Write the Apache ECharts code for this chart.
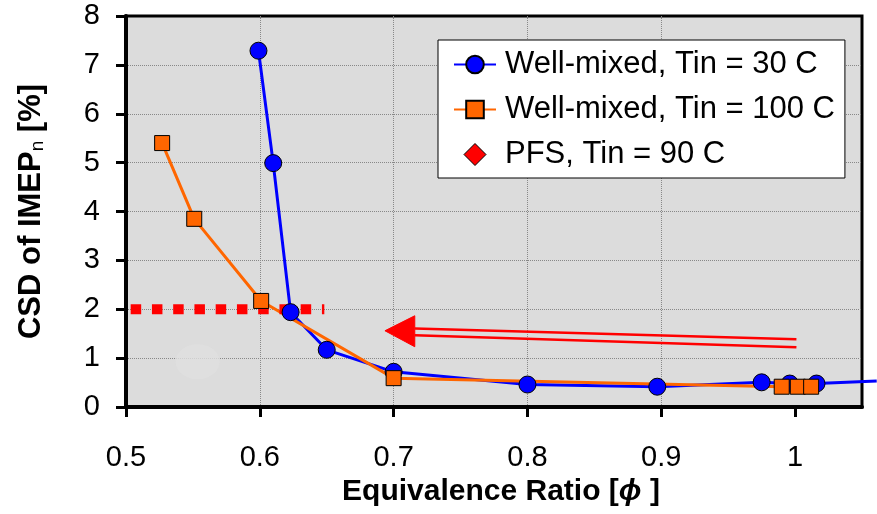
<!DOCTYPE html>
<html>
<head>
<meta charset="utf-8">
<script src="https://cdn.jsdelivr.net/npm/echarts@6/dist/echarts.min.js"></script>
<style>html,body{margin:0;padding:0;background:#fff}#c{width:877px;height:514px}</style>
</head>
<body>
<div id="c"></div>
<script>
// ---- data ----
var xTicks = [0.5, 0.6, 0.7, 0.8, 0.9, 1.0];
var yTicks = [0, 1, 2, 3, 4, 5, 6, 7, 8];
var wm30X = [0.599, 0.610, 0.623, 0.650, 0.700, 0.800, 0.897, 0.975, 0.996, 1.016, 1.061];
var wm30Y = [7.29, 4.99, 1.94, 1.17, 0.72, 0.46, 0.415, 0.505, 0.48, 0.48, 0.53];
var wm100X = [0.527, 0.551, 0.601, 0.700, 0.990, 1.002, 1.012];
var wm100Y = [5.40, 3.85, 2.17, 0.59, 0.415, 0.415, 0.415];
var pfsX = [0.5035, 0.6482];
var pfsY = [2.0, 2.0];
var arrowTopX = [0.7158, 1.001];
var arrowTopY = [1.606, 1.384];
var arrowBotX = [0.7158, 1.001];
var arrowBotY = [1.469, 1.22];
var arrowHead = [0.6935, 1.56, 0.7158, 1.867, 1.233]; // tipX, tipY, backX, backTopY, backBottomY
var blob = [0.5535, 0.926];
var names = ['Well-mixed, Tin = 30 C', 'Well-mixed, Tin = 100 C', 'PFS, Tin = 90 C'];
var xMin = 0.5, xMax = 1.05, yMin = 0, yMax = 8;

function zip(a, b) { return a.map(function (v, i) { return [v, b[i]]; }); }

// ---- layout ----
var W = 877, G = { left: 126, top: 16, right: 15, bottom: 107 };
// a hidden twin x-axis with identical scale that reaches the canvas edge,
// so the 30 C curve can run past the plot frame as in the original
var plotW = W - G.left - G.right;
var xMaxExt = xMin + (xMax - xMin) * (W - G.left) / plotW;

var FONT = "'Liberation Sans', Arial, sans-serif";
var wm30Data = zip(wm30X, wm30Y).map(function (p, i) {
  return i === wm30X.length - 1 ? { value: p, symbol: 'none' } : p;
});
var gridLine = { show: true, showMinLine: false, showMaxLine: false, lineStyle: { color: '#888', width: 1, type: 'dotted' } };

var chart = echarts.init(document.getElementById('c'));
chart.setOption({
  animation: false,
  textStyle: { fontFamily: FONT },
  grid: [
    { left: G.left, top: G.top, right: G.right, bottom: G.bottom, z: -1,
      show: true, backgroundColor: '#dcdcdc', borderColor: '#000', borderWidth: 3 },
    { left: G.left, top: G.top, right: 0, bottom: G.bottom, show: false }
  ],
  legend: {
    orient: 'vertical', left: 438, top: 40,
    padding: [9, 10, 8, 15],
    backgroundColor: '#fff', borderColor: '#000', borderWidth: 1, borderRadius: 0,
    itemWidth: 42, itemHeight: 22, itemGap: 14,
    textStyle: { fontSize: 31, color: '#000', fontFamily: FONT, padding: [0, 0, 0, 4] },
    data: [
      { name: names[0] },
      { name: names[1] },
      { name: names[2], icon: 'path://M0,-10L10,0L0,10L-10,0Z', itemStyle: { color: '#ff0000', borderColor: '#000', borderWidth: 1 } }
    ]
  },
  xAxis: [{
    type: 'value', min: xMin, max: xMax, interval: 0.1, gridIndex: 0,
    name: 'Equivalence Ratio [{phi|ϕ} ]', nameLocation: 'middle', nameGap: 55,
    nameTextStyle: {
      fontSize: 30, fontWeight: 'bold', color: '#000', fontFamily: FONT, padding: [0, 0, 0, 14],
      rich: { phi: { fontSize: 30, fontWeight: 'bold', fontStyle: 'italic', color: '#000', fontFamily: FONT } }
    },
    axisLine: { show: true, lineStyle: { color: '#000', width: 4 } },
    axisTick: { show: true, inside: false, length: 10, lineStyle: { color: '#000', width: 3 }, customValues: xTicks },
    axisLabel: { fontSize: 29, color: '#000', margin: 36, customValues: xTicks,
      formatter: function (v) { return String(Math.round(v * 10) / 10); } },
    splitLine: gridLine
  }, {
    type: 'value', min: xMin, max: xMaxExt, gridIndex: 1, show: false
  }],
  yAxis: [{
    type: 'value', min: yMin, max: yMax, interval: 1, gridIndex: 0,
    name: 'CSD of IMEP{sub|n} [%]', nameLocation: 'middle', nameGap: 79, nameRotate: 90,
    nameTextStyle: {
      fontSize: 31, fontWeight: 'bold', color: '#000', fontFamily: FONT,
      rich: { sub: { fontSize: 19, fontWeight: 'normal', color: '#000', fontFamily: FONT, verticalAlign: 'bottom', padding: [12, 0, 0, 0] } }
    },
    axisLine: { show: true, lineStyle: { color: '#000', width: 4 } },
    axisTick: { show: true, inside: false, length: 10, lineStyle: { color: '#000', width: 3 } },
    axisLabel: { fontSize: 29, color: '#000', margin: 26 },
    splitLine: gridLine
  }, {
    type: 'value', min: yMin, max: yMax, gridIndex: 1, show: false
  }],
  series: [
    {
      name: 'blob', type: 'scatter', silent: true, data: [blob],
      symbol: 'circle', symbolSize: [44, 35], itemStyle: { color: '#e0e0e0' }, z: 1
    },
    {
      name: names[0], type: 'line', data: wm30Data, xAxisIndex: 1, yAxisIndex: 1,
      symbol: 'circle', symbolSize: 17,
      lineStyle: { color: '#0000ff', width: 3 },
      itemStyle: { color: '#0000ff', borderColor: '#000', borderWidth: 1 }
    },
    {
      name: names[1], type: 'line', data: zip(wm100X, wm100Y),
      symbol: 'rect', symbolSize: 15,
      lineStyle: { color: '#ff6600', width: 3 },
      itemStyle: { color: '#ff6600', borderColor: '#000', borderWidth: 1 }
    },
    {
      name: names[2], type: 'line', data: zip(pfsX, pfsY),
      symbol: 'none',
      lineStyle: { color: '#ff0000', width: 10, type: [10.5, 10.75], cap: 'butt' },
      itemStyle: { color: '#ff0000', borderColor: '#000', borderWidth: 1 }
    },
    {
      name: 'arrowTop', type: 'line', data: zip(arrowTopX, arrowTopY), symbol: 'none', silent: true,
      lineStyle: { color: '#ff0000', width: 2.5 }
    },
    {
      name: 'arrowBot', type: 'line', data: zip(arrowBotX, arrowBotY), symbol: 'none', silent: true,
      lineStyle: { color: '#ff0000', width: 2.5 }
    },
    {
      name: 'arrowHead', type: 'custom', silent: true, data: [arrowHead],
      encode: { x: [0, 2], y: [1, 3, 4] },
      renderItem: function (params, api) {
        var tip = api.coord([api.value(0), api.value(1)]);
        var bt = api.coord([api.value(2), api.value(3)]);
        var bb = api.coord([api.value(2), api.value(4)]);
        return { type: 'polygon', shape: { points: [tip, bt, bb] }, style: { fill: '#ff0000', stroke: '#ff0000', lineWidth: 1 } };
      }
    }
  ]
});
</script>
</body>
</html>
